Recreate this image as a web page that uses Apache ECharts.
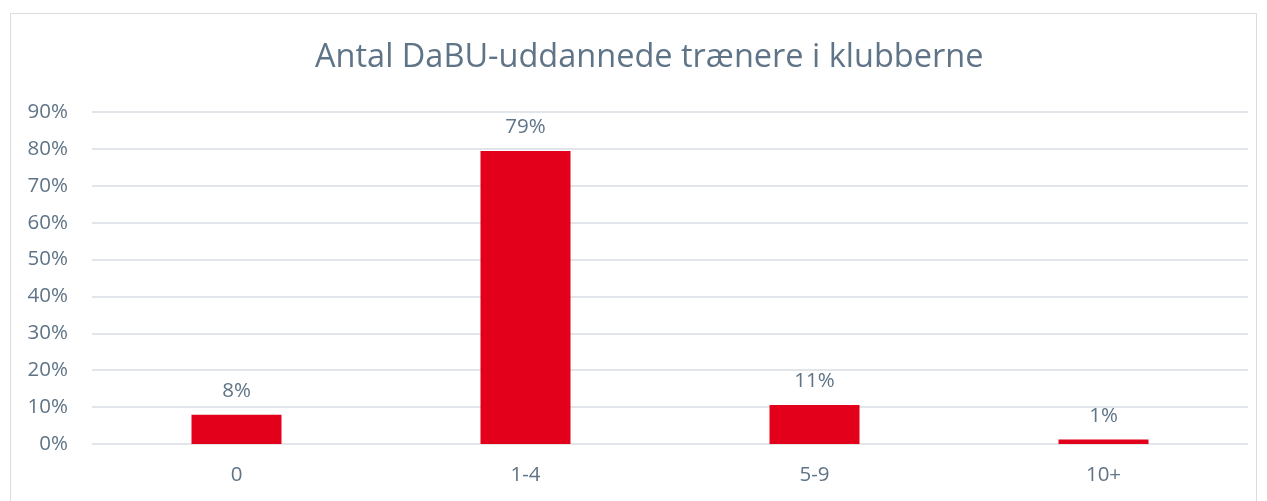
<!DOCTYPE html>
<html>
<head>
<meta charset="utf-8">
<script src="https://cdn.jsdelivr.net/npm/echarts@6/dist/echarts.min.js"></script>
<style>
    html, body { margin: 0; padding: 0; background: #fff; }
    #chart { width: 1267px; height: 501px; }
    #frame {
        position: absolute; left: 10px; top: 13px; width: 1247px; height: 500px;
        border: 1px solid #d9dde2; pointer-events: none; box-sizing: border-box;
    }
</style>
</head>
<body>
<div id="chart"></div>
<div id="frame"></div>
<script>
const categories = ['0', '1-4', '5-9', '10+']
const shares = [7.9, 79.4, 10.6, 1.2]
const yTicks = [0, 10, 20, 30, 40, 50, 60, 70, 80, 90]

const textColor = '#5f7487'
const fontFamily = '"Open Sans", Lato, sans-serif'

const chart = echarts.init(document.getElementById('chart'))

chart.setOption({
    animation: false,
    title: {
        text: 'Antal DaBU-uddannede trænere i klubberne',
        left: 310,
        top: 36,
        textStyle: { color: textColor, fontSize: 32.5, fontWeight: 'normal', fontFamily }
    },
    grid: { left: 92, right: 19, top: 112, bottom: 57 },
    xAxis: {
        type: 'category',
        data: categories,
        axisLine: { show: false },
        axisTick: { show: false },
        axisLabel: { color: textColor, fontSize: 20.5, fontFamily, margin: 21 }
    },
    yAxis: {
        type: 'value',
        min: yTicks[0],
        max: yTicks[yTicks.length - 1],
        interval: 10,
        axisLabel: {
            color: textColor, fontSize: 20.5, fontFamily, margin: 24,
            formatter: (v) => v + '%'
        },
        splitLine: { lineStyle: { color: '#d9dee3', width: 1.5 } }
    },
    series: [{
        type: 'bar',
        data: shares,
        barWidth: 90,
        itemStyle: { color: '#e2001a' },
        label: {
            show: true,
            position: 'top',
            distance: 13,
            color: textColor,
            fontSize: 20.5,
            fontFamily,
            formatter: (p) => Math.round(p.value) + '%'
        }
    }]
})
</script>
</body>
</html>
